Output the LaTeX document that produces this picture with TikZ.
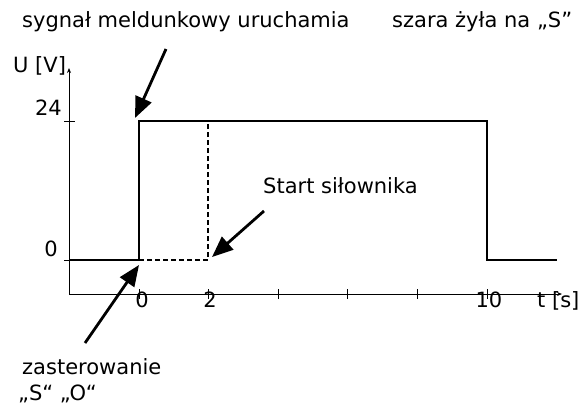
\documentclass[tikz,border=0pt]{standalone}
\usepackage{fontspec}
\setmainfont{DejaVu Sans}
\usetikzlibrary{arrows.meta}
\begin{document}
\begin{tikzpicture}[x=1pt,y=-1pt,
  axis/.style={line width=0.9pt,-{Stealth[length=5pt,width=4pt]}},
  tickline/.style={line width=0.9pt},
  sig/.style={line width=1.2pt},
  dsig/.style={line width=1.1pt,dash pattern=on 5pt off 3pt},
  callout/.style={line width=2.8pt,-{Triangle[length=21pt,width=17pt]}},
  lbl/.style={font=\fontsize{21}{25}\selectfont,inner sep=0pt}]
\useasboundingbox (0,0) rectangle (584,407);
% coordinates
\coordinate (O) at (69,294);
\coordinate (yend) at (69,68);
\coordinate (xend) at (562,294);
\coordinate (p0) at (69,260);
\coordinate (p1) at (139,260);
\coordinate (p2) at (139,121);
\coordinate (p3) at (487,121);
\coordinate (p4) at (487,260);
\coordinate (p5) at (557,260);
\coordinate (d1) at (208,260);
\coordinate (d2) at (208,121);
\coordinate (a1s) at (166,49);
\coordinate (a1e) at (135,118);
\coordinate (a2s) at (264,211);
\coordinate (a2e) at (212,257);
\coordinate (a3s) at (85,343);
\coordinate (a3e) at (139,265);
% axes
\draw[axis] (O) -- (yend);
\draw[axis] (O) -- (xend);
% ticks
\foreach \yy in {121,260} \draw[tickline] (64,\yy) -- (75,\yy);
\foreach \xx in {139,208,278,347,417,487} \draw[tickline] (\xx,289) -- (\xx,299);
% signal
\draw[sig] (p0) -- (p1) -- (p2) -- (p3) -- (p4) -- (p5);
\draw[dsig] (p1) -- (d1) -- (d2);
% callout arrows
\draw[callout] (a1s) -- (a1e);
\draw[callout] (a2s) -- (a2e);
\draw[callout] (a3s) -- (a3e);
% texts
\node[lbl,anchor=base west] (t1) at (22,27) {sygnał meldunkowy uruchamia};
\node[lbl,anchor=base west] (t2) at (392,27) {szara żyła na „S”};
\node[lbl,anchor=base west] (uv) at (13,72) {U [V]};
\node[lbl,anchor=base east] (l24) at (62,115) {24};
\node[lbl,anchor=base east] (l0) at (58,256) {0};
\node[lbl,anchor=base] (x0) at (142,307) {0};
\node[lbl,anchor=base] (x2) at (210,307) {2};
\node[lbl,anchor=base] (x10) at (489,307) {10};
\node[lbl,anchor=base west] (ts) at (537,307) {t [s]};
\node[lbl,anchor=base west] (st) at (263,193) {Start siłownika};
\node[lbl,anchor=base west] (z1) at (22,374) {zasterowanie};
\node[lbl,anchor=base west] (z2) at (18,400) {„S“ „O“};
\end{tikzpicture}
\end{document}
